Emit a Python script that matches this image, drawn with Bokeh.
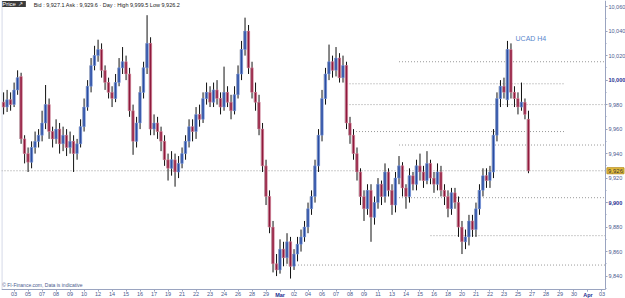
import numpy as np
from bokeh.plotting import figure
from bokeh.models import (ColumnDataSource, FixedTicker, Range1d, Label,
                          NumeralTickFormatter, LinearAxis)
from bokeh.embed import file_html
from bokeh.resources import INLINE

# ---- data (H4 bars, UCAD) ----
opens = [9982, 9978, 9984, 9980, 9992, 10003, 9952, 9940, 9933, 9945,
         9950, 9955, 9965, 9980, 9958, 9952, 9960, 9948, 9955, 9945,
         9950, 9940, 9948, 9962, 9978, 9995, 10012, 10020, 10025, 10008,
         9998, 9990, 9985, 9998, 10010, 10015, 10005, 9975, 9950, 9965,
         9990, 10010, 10030, 9960, 9965, 9958, 9950, 9935, 9928, 9935,
         9925, 9932, 9940, 9950, 9962, 9958, 9972, 9968, 9985, 9990,
         9982, 9992, 9985, 9978, 9990, 9982, 9975, 9988, 10005, 10025,
         10040, 10010, 9990, 9982, 9960, 9930, 9905, 9880, 9850, 9845,
         9862, 9855, 9868, 9848, 9858, 9866, 9872, 9880, 9895, 9905,
         9930, 9955, 9985, 10005, 10015, 10008, 10018, 10002, 10012, 9965,
         9955, 9940, 9925, 9905, 9895, 9910, 9888, 9900, 9915, 9905,
         9925, 9910, 9898, 9920, 9930, 9912, 9905, 9922, 9915, 9930,
         9925, 9918, 9932, 9920, 9915, 9925, 9910, 9905, 9895, 9908,
         9900, 9880, 9868, 9872, 9885, 9878, 9895, 9910, 9922, 9918,
         9925, 9955, 9985, 9995, 9984, 10025, 9990, 9985, 9978, 9982,
         9968]
highs = [9990, 9992, 9990, 9998, 10008, 10006, 9955, 9945, 9950, 9958,
         9960, 9975, 9996, 9985, 9962, 9968, 9965, 9962, 9960, 9958,
         9955, 9952, 9968, 9985, 10000, 10018, 10028, 10033, 10030, 10012,
         10002, 9995, 10005, 10018, 10027, 10020, 10010, 9980, 9970, 9995,
         10015, 10053, 10035, 9972, 9970, 9962, 9955, 9940, 9942, 9940,
         9938, 9945, 9955, 9968, 9968, 9978, 9980, 9990, 9998, 9995,
         9998, 10000, 9990, 10011, 9995, 9988, 9995, 10012, 10032, 10051,
         10045, 10015, 9998, 9988, 9965, 9935, 9910, 9885, 9858, 9870,
         9868, 9875, 9872, 9862, 9872, 9878, 9885, 9900, 9910, 9935,
         9960, 9992, 10010, 10029, 10020, 10027, 10022, 10020, 10015, 9970,
         9960, 9945, 9928, 9910, 9915, 9915, 9905, 9920, 9918, 9932,
         9928, 9915, 9925, 9938, 9933, 9915, 9928, 9925, 9935, 9940,
         9930, 9942, 9935, 9925, 9932, 9930, 9915, 9910, 9912, 9912,
         9905, 9885, 9878, 9890, 9890, 9900, 9915, 9928, 9928, 9930,
         9960, 9990, 10000, 10002, 10032, 10030, 9995, 9990, 9998, 9985,
         9975]
lows = [9972, 9974, 9975, 9978, 9988, 9948, 9932, 9925, 9928, 9940,
        9945, 9950, 9960, 9952, 9945, 9948, 9940, 9942, 9938, 9940,
        9925, 9935, 9945, 9958, 9975, 9990, 10008, 10015, 10002, 9992,
        9985, 9978, 9982, 9995, 10005, 10000, 9970, 9939, 9945, 9960,
        9985, 10005, 9955, 9955, 9952, 9942, 9930, 9918, 9922, 9913,
        9920, 9928, 9935, 9945, 9950, 9952, 9962, 9965, 9980, 9978,
        9978, 9980, 9972, 9975, 9978, 9968, 9972, 9985, 10000, 10020,
        10005, 9985, 9975, 9955, 9925, 9898, 9875, 9843, 9840, 9842,
        9848, 9850, 9838, 9845, 9852, 9860, 9868, 9875, 9890, 9900,
        9925, 9950, 9980, 10000, 10002, 10003, 9998, 9998, 9960, 9948,
        9935, 9918, 9898, 9885, 9890, 9868, 9882, 9895, 9898, 9900,
        9905, 9890, 9892, 9915, 9905, 9895, 9900, 9910, 9910, 9918,
        9912, 9915, 9915, 9908, 9910, 9905, 9898, 9888, 9890, 9895,
        9872, 9858, 9862, 9865, 9872, 9872, 9890, 9905, 9912, 9912,
        9920, 9950, 9978, 9985, 9978, 9985, 9978, 9972, 9975, 9968,
        9924]
closes = [9978, 9984, 9980, 9992, 10002, 9952, 9940, 9933, 9945, 9950,
          9955, 9965, 9980, 9958, 9952, 9960, 9948, 9955, 9945, 9950,
          9940, 9948, 9962, 9978, 9995, 10012, 10020, 10025, 10008, 9998,
          9990, 9985, 9998, 10010, 10015, 10005, 9975, 9950, 9965, 9990,
          10010, 10030, 9960, 9965, 9958, 9950, 9935, 9928, 9935, 9925,
          9932, 9940, 9950, 9962, 9958, 9972, 9968, 9985, 9990, 9982,
          9992, 9985, 9978, 9990, 9982, 9975, 9988, 10005, 10025, 10040,
          10010, 9990, 9982, 9960, 9930, 9905, 9880, 9850, 9845, 9862,
          9855, 9868, 9848, 9858, 9866, 9872, 9880, 9895, 9905, 9930,
          9955, 9985, 10005, 10015, 10008, 10018, 10002, 10012, 9965, 9955,
          9940, 9925, 9905, 9895, 9910, 9888, 9900, 9915, 9905, 9925,
          9910, 9898, 9920, 9930, 9912, 9905, 9922, 9915, 9930, 9925,
          9918, 9932, 9920, 9915, 9925, 9910, 9905, 9895, 9908, 9900,
          9880, 9868, 9872, 9885, 9878, 9895, 9910, 9922, 9918, 9925,
          9955, 9985, 9995, 9990, 10025, 9990, 9985, 9978, 9982, 9972,
          9926]

date_labels = ["03", "05", "07", "08", "09", "10", "12", "14", "15", "16",
               "17", "19", "21", "22", "23", "24", "26", "28", "29", "Mar",
               "02", "04", "06", "07", "08", "09", "11", "13", "14", "15",
               "16", "18", "20", "21", "22", "23", "25", "27", "28", "29",
               "30", "Apr", "03"]
month_labels = ["Mar", "Apr"]
y_tick_values = [9840, 9860, 9880, 9900, 9920, 9940, 9960, 9980,
                 10000, 10020, 10040, 10060]
y_bold_values = [9900, 10000]
current_price = 9926
level_prices = [10015, 9997, 9980, 9958, 9947, 9926, 9904, 9873, 9849]
level_from = [113, 98, 98, 99, 113, -0.6, 113, 122, 79]
level_to = [172.0, 160.5, 172.0, 160.5, 172.0, 172.0, 172.0, 172.0, 172.0]

# ---- figure ----
o = np.array(opens, dtype=float)
c = np.array(closes, dtype=float)
h = np.array(highs, dtype=float)
l = np.array(lows, dtype=float)
x = np.arange(len(o))
up = c >= o

# price area: x from X0 to XAX (right axis), y from Y0 (bottom axis) to Y1
X0, XAX, X1 = -0.6, 172.0, 177.73
Y0, Y1, YB = 9829.1, 10065, 9821.7

p = figure(width=625, height=298, output_backend="svg", toolbar_location=None,
           x_range=Range1d(X0, X1), y_range=Range1d(YB, Y1),
           y_axis_location="right", min_border_left=1, min_border_right=0,
           min_border_top=0, min_border_bottom=0)
p.background_fill_color = "white"
p.border_fill_color = "white"
p.outline_line_color = None
p.xgrid.visible = False
p.ygrid.visible = False

# left border of price area
p.segment(x0=[X0 + 0.12], y0=[Y0], x1=[X0 + 0.12], y1=[Y1],
          line_color="#c4cade", line_width=1)

# level lines
p.segment(x0=level_from, y0=level_prices, x1=level_to, y1=level_prices,
          line_color="#9a9a9a", line_width=1, line_dash="1 2")

# wicks
p.segment(x0=x, y0=h, x1=x, y1=l, line_color="#111111", line_width=1)

# shadow bodies
tops = np.maximum(o, c)
bots = np.minimum(o, c)
p.vbar(x=x - 0.3, width=0.45, top=tops, bottom=bots, fill_color="#a8a8a8",
       line_color=None)

src_up = ColumnDataSource(dict(x=x[up], top=tops[up], bottom=bots[up]))
src_dn = ColumnDataSource(dict(x=x[~up], top=tops[~up], bottom=bots[~up]))
p.vbar(x="x", width=0.62, top="top", bottom="bottom", source=src_up,
       fill_color="#2c4c9e", line_color="#6f8fd8", line_width=0.7)
p.vbar(x="x", width=0.62, top="top", bottom="bottom", source=src_dn,
       fill_color="#8e1a3c", line_color="#d07a92", line_width=0.7)

AX_COL = "#9aa4c0"
LAB_COL = "#4a5a8e"
BOLD_COL = "#1c2c90"
FS = "5.5px"

# y axis (fixed at the right edge of the price area)
yax = p.yaxis[0]
yax.fixed_location = XAX
yax.ticker = FixedTicker(ticks=y_tick_values,
                         minor_ticks=list(range(9830, 10070, 10)))
yax.formatter = NumeralTickFormatter(format="0,0")
yax.major_label_overrides = {v: "" for v in y_bold_values}
yax.major_label_text_font = "Liberation Sans"
yax.major_label_text_font_size = FS
yax.major_label_text_color = LAB_COL
yax.major_label_standoff = 1
yax.major_tick_out = 2
yax.major_tick_in = 0
yax.minor_tick_out = 1
yax.minor_tick_in = 0
yax.axis_line_color = AX_COL
yax.major_tick_line_color = AX_COL
yax.minor_tick_line_color = AX_COL
yax.bounds = (Y0, Y1)

ybold = LinearAxis(fixed_location=XAX, ticker=FixedTicker(ticks=y_bold_values, minor_ticks=[]),
                   formatter=NumeralTickFormatter(format="0,0"),
                   major_label_text_font="Liberation Sans",
                   major_label_text_font_size=FS, major_label_text_font_style="bold",
                   major_label_text_color=BOLD_COL, major_label_standoff=1,
                   major_tick_out=2, major_tick_in=0, axis_line_color=None,
                   major_tick_line_color=AX_COL)
p.add_layout(ybold, "right")

# x axis (fixed at the bottom edge of the price area)
xax = p.xaxis[0]
xax.fixed_location = Y0
xt = [3 + 4 * k for k in range(len(date_labels))]
xax.ticker = FixedTicker(ticks=xt, minor_ticks=[])
xax.major_label_overrides = {t: ("" if lab in month_labels else lab)
                             for t, lab in zip(xt, date_labels)}
xax.major_label_text_font = "Liberation Sans"
xax.major_label_text_font_size = FS
xax.major_label_text_color = LAB_COL
xax.major_label_standoff = 1
xax.major_tick_out = 2
xax.major_tick_in = 0
xax.axis_line_color = AX_COL
xax.major_tick_line_color = AX_COL
xax.bounds = (X0, XAX)

mt = [t for t, lab in zip(xt, date_labels) if lab in month_labels]
xbold = LinearAxis(fixed_location=Y0, ticker=FixedTicker(ticks=mt, minor_ticks=[]),
                   major_label_overrides={t: lab for t, lab in zip(xt, date_labels) if lab in month_labels},
                   major_label_text_font="Liberation Sans",
                   major_label_text_font_size=FS, major_label_text_font_style="bold",
                   major_label_text_color=BOLD_COL, major_label_standoff=1,
                   major_tick_out=2, major_tick_in=0, axis_line_color=None,
                   major_tick_line_color=AX_COL)
p.add_layout(xbold, "below")

# texts
p.add_layout(Label(x=X0 + 0.2, y=Y1 - 0.5, text="Price   \u2197", text_font="Liberation Sans",
                   text_font_size="6px", text_color="white", text_baseline="top",
                   background_fill_color="#3a3a3a"))
p.add_layout(Label(x=8.6, y=Y1 - 1, text="Bid : 9,927.1 Ask : 9,929.6 \u00b7 Day : High 9,999.5 Low 9,926.2",
                   text_font="Liberation Sans", text_font_size="5.5px",
                   text_color="#222222", text_baseline="top"))
p.add_layout(Label(x=146.3, y=10034, text="UCAD H4", text_font="Liberation Sans",
                   text_font_size="7px", text_color="#5a86cc", text_baseline="middle"))
p.add_layout(Label(x=X0 + 0.2, y=Y0 + 1, text="\u00a9 FI-Finance.com, Data is indicative",
                   text_font="Liberation Sans", text_font_size="5px",
                   text_color=LAB_COL, text_baseline="bottom"))
p.add_layout(Label(x=XAX, y=current_price, x_offset=1.5,
                   text="{:,}".format(current_price), text_font="Liberation Sans",
                   text_font_size="6px", text_color="#333333", text_baseline="middle",
                   background_fill_color="#e8c040", border_line_color="#b89020",
                   padding=1))

open("out.html", "w").write(file_html(p, INLINE))
